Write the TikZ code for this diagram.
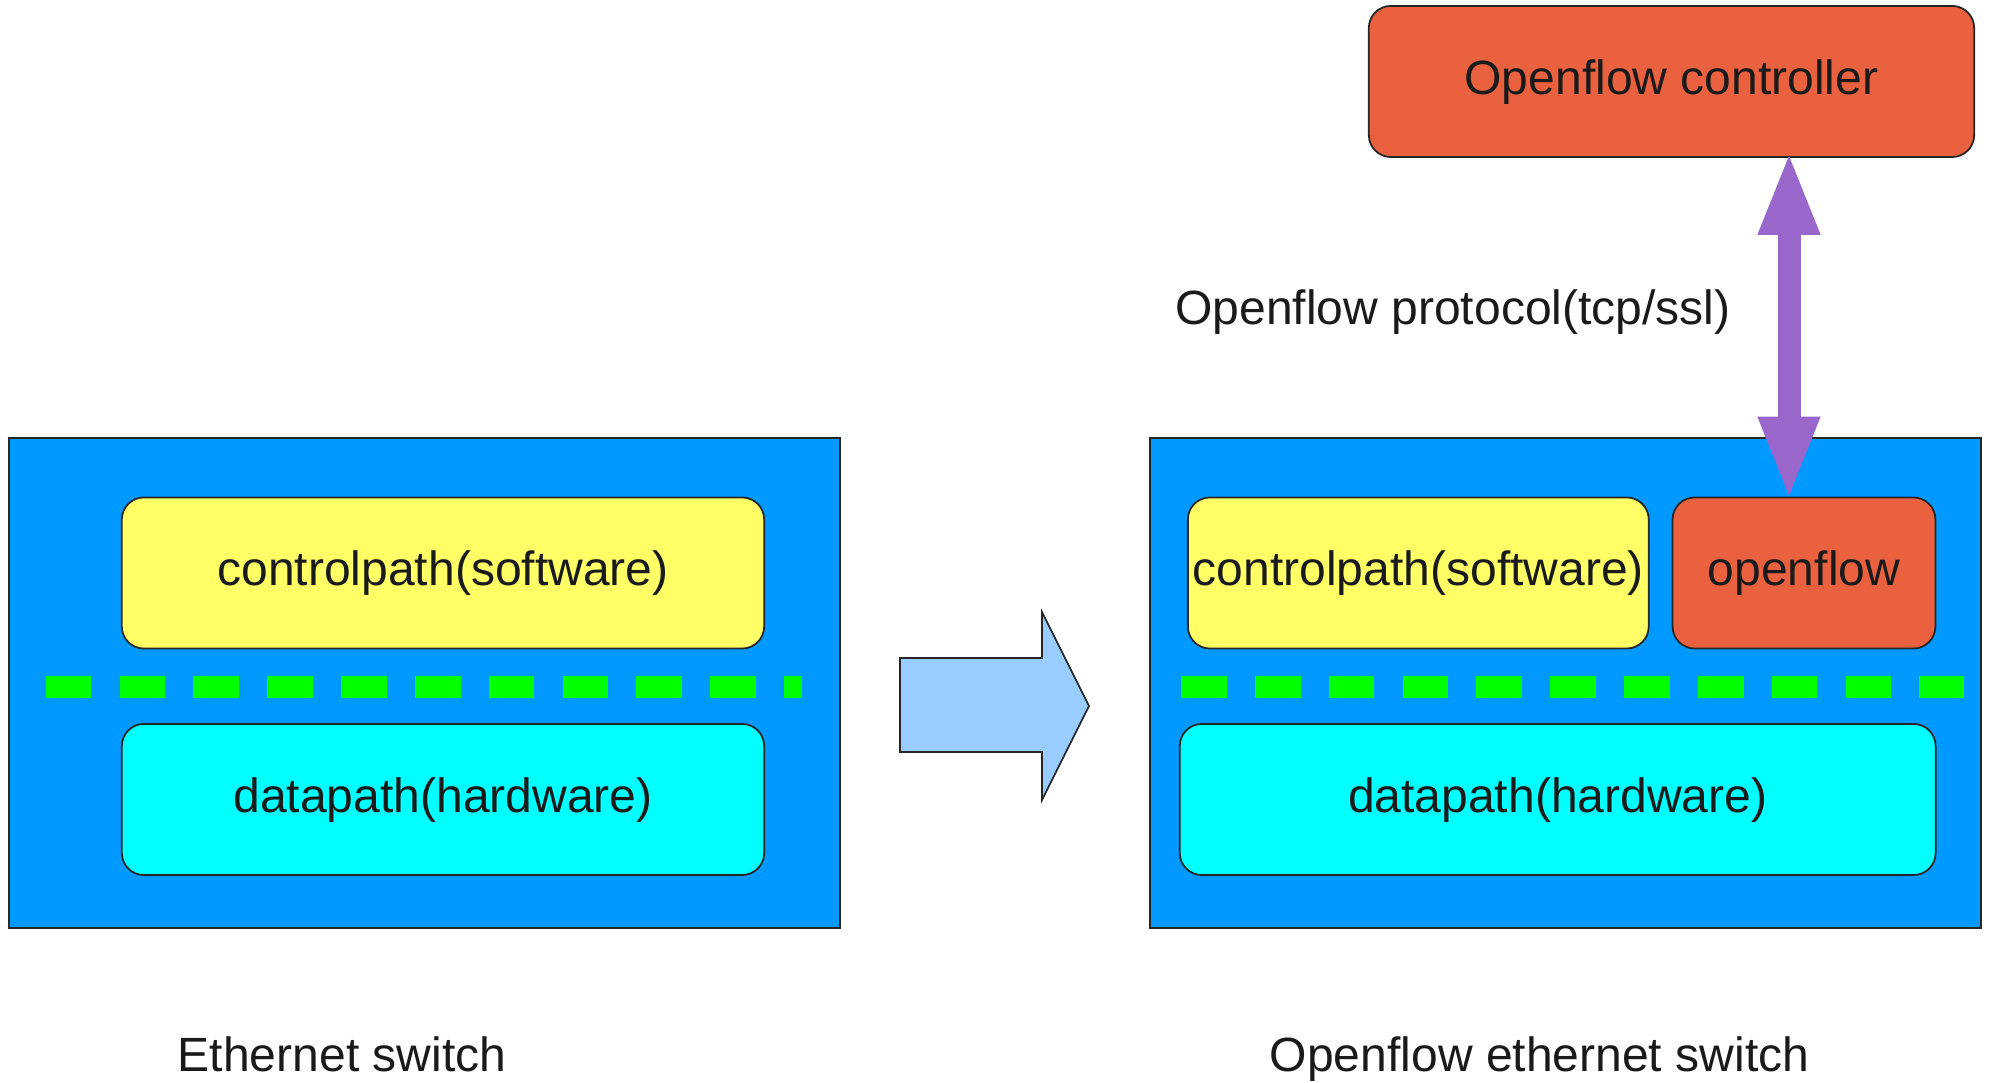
\documentclass[tikz,border=0pt]{standalone}
\usepackage{fontspec}
\setmainfont{Liberation Sans}
\usepackage{tikz}
\usetikzlibrary{arrows.meta, positioning}

\definecolor{switchblue}{HTML}{0099FF}
\definecolor{ctrlyellow}{HTML}{FFFF66}
\definecolor{datacyan}{HTML}{00FFFF}
\definecolor{flowred}{HTML}{E9613F}
\definecolor{protopurple}{HTML}{9966CC}
\definecolor{dashgreen}{HTML}{00FF00}
\definecolor{arrowblue}{HTML}{99CCFF}
\definecolor{inkgray}{HTML}{1A1A1A}

\tikzset{
  switchbox/.style={draw=black!85, fill=switchblue, line width=0.5pt,
    minimum width=8.31cm, minimum height=4.9cm, inner sep=0pt},
  pathbox/.style={draw=black!85, line width=0.5pt, rounded corners=0.22cm,
    minimum height=1.51cm, inner sep=0pt, text=inkgray,
    text height=0.9em, text depth=0.18em},
  ctrlbox/.style={pathbox, fill=ctrlyellow},
  databox/.style={pathbox, fill=datacyan},
  flowbox/.style={pathbox, fill=flowred},
  dashline/.style={draw=dashgreen, line width=0.22cm,
    dash pattern=on 0.457cm off 0.281cm},
  bigarrow/.style={draw=black!85, fill=arrowblue, line width=0.5pt, line join=miter},
  protoarrow/.style={draw=protopurple, line width=0.23cm,
    {Triangle[length=0.84cm,width=0.56cm]}-{Triangle[length=0.84cm,width=0.56cm]}},
  lbl/.style={anchor=base, inner sep=0pt, text=inkgray}
}

\begin{document}
\begin{tikzpicture}[x=0.01cm, y=-0.01cm, font=\fontsize{13.66pt}{16pt}\selectfont]
  \useasboundingbox (0,0) rectangle (1990,1083);

  % ethernet switch
  \node[switchbox] (lsw) at (424.5,683) {};
  \node[ctrlbox, minimum width=6.42cm] (lctrl) at (443,573) {controlpath(software)};
  \node[databox, minimum width=6.42cm] (ldata) at (443,799.5) {datapath(hardware)};
  \draw[dashline] (45.7,686.7) -- (802,686.7);
  \node[lbl] (lname) at (342,1072) {Ethernet switch};

  % the big arrow between the two
  \draw[bigarrow] (900,658) -- (1042,658) -- (1042,612) -- (1089,706)
    -- (1042,800) -- (1042,752) -- (900,752) -- cycle;

  % openflow ethernet switch
  \node[switchbox] (rsw) at (1565.5,683) {};
  \node[ctrlbox, minimum width=4.606cm] (rctrl) at (1418.3,573) {controlpath(software)};
  \node[flowbox, minimum width=2.627cm] (ofl) at (1804,573) {openflow};
  \node[databox, minimum width=7.554cm] (rdata) at (1557.7,799.5) {datapath(hardware)};
  \draw[dashline] (1181,686.7) -- (1964,686.7);
  \node[lbl] (rname) at (1539.5,1072) {Openflow ethernet switch};

  % controller and protocol link
  \node[flowbox, minimum width=6.05cm] (ctrl) at (1671.5,81.5) {Openflow controller};
  \coordinate (pbot) at ([xshift=-0.15cm, yshift=-0.04cm]ofl.north);
  \coordinate (ptop) at ([yshift=0.07cm]pbot |- ctrl.south);
  \draw[protoarrow] (ptop) -- (pbot);
  \node[lbl] (proto) at (1453,325) {Openflow protocol(tcp/ssl)};
\end{tikzpicture}
\end{document}
